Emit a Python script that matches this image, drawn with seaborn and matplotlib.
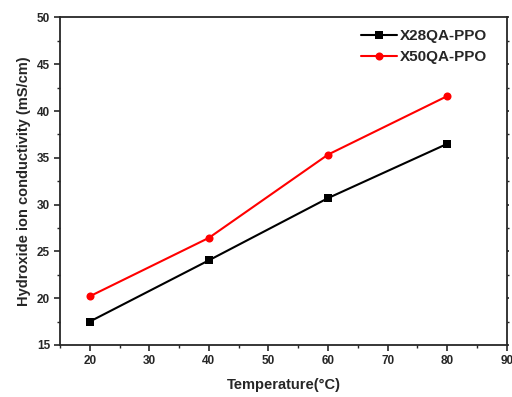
import numpy as np
import pandas as pd
import matplotlib
matplotlib.use("Agg")
import matplotlib.pyplot as plt
import seaborn as sns
from matplotlib.ticker import MultipleLocator
from matplotlib.lines import Line2D

temps = [20, 40, 60, 80]
x28 = [17.5, 24.05, 30.7, 36.5]
x50 = [20.2, 26.45, 35.35, 41.6]
series_names = ["X28QA-PPO", "X50QA-PPO"]
colors = ["#000000", "#ff0000"]
markers = ["s", "o"]

df = pd.DataFrame({
    "Temperature": temps * 2,
    "Conductivity": x28 + x50,
    "Series": [series_names[0]] * 4 + [series_names[1]] * 4,
})

sns.set_style("ticks")
plt.rcParams['font.family'] = ['Liberation Sans', 'DejaVu Sans']
plt.rcParams['font.weight'] = 'bold'

fig = plt.figure(figsize=(5.12, 3.97), dpi=100)
ax = fig.add_axes([0.117, 0.131, 0.873, 0.825])

sns.lineplot(data=df, x="Temperature", y="Conductivity", hue="Series", style="Series",
             palette=dict(zip(series_names, colors)),
             markers=dict(zip(series_names, markers)), dashes=False,
             linewidth=1.5, markersize=5.8, markeredgewidth=0, ax=ax, legend=False)

ax.set_xlim(15, 90)
ax.set_ylim(15, 50)
ax.xaxis.set_major_locator(MultipleLocator(10))
ax.xaxis.set_minor_locator(MultipleLocator(5))
ax.yaxis.set_major_locator(MultipleLocator(5))
ax.yaxis.set_minor_locator(MultipleLocator(2.5))
ax.tick_params(axis='both', which='major', direction='out', length=4, width=1.2, labelsize=8.5, pad=3)
ax.tick_params(axis='both', which='minor', direction='out', length=2.5, width=1.0)
ax.tick_params(axis='y', which='both', right=True, labelright=False)
for t in ax.yaxis.get_major_ticks() + ax.yaxis.get_minor_ticks():
    t.tick2line.set_markersize(1.5)
for lab in ax.get_xticklabels() + ax.get_yticklabels():
    lab.set_fontweight('bold')
for s in ax.spines.values():
    s.set_linewidth(1.3)
    s.set_visible(True)

ax.set_xlabel("Temperature(°C)", fontsize=10.5, fontweight='bold', labelpad=8)
ax.set_ylabel("Hydroxide ion conductivity (mS/cm)", fontsize=10.5, fontweight='bold', labelpad=4)

handles = [Line2D([0], [0], color=c, marker=m, linewidth=1.5, markersize=5.8, markeredgewidth=0)
           for c, m in zip(colors, markers)]
leg = ax.legend(handles, series_names, loc='upper right', frameon=False,
                prop={'weight': 'bold', 'size': 11}, handlelength=2.3,
                handletextpad=0.2, labelspacing=0.45, borderaxespad=0.0,
                bbox_to_anchor=(0.969, 0.982))

fig.savefig("out.png", dpi=100)
